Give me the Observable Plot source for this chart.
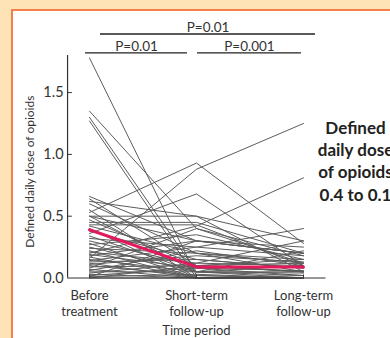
<!DOCTYPE html>
<html>
<head>
<meta charset="utf-8">
<script src="https://cdn.jsdelivr.net/npm/d3@7"></script>
<script src="https://cdn.jsdelivr.net/npm/@observablehq/plot@0.6"></script>
<style>
  html, body { margin: 0; padding: 0; width: 390px; height: 338px; overflow: hidden; background: #fde3b6; }
  #panel { position: absolute; left: 11px; top: 9px; width: 400px; height: 340px; background: #fff;
           border-left: 2px solid #f27f4c; border-top: 2px solid #f27f4c; }
  #chart { position: absolute; left: 0; top: 0; }
</style>
</head>
<body>
<div id="panel"></div>
<div id="chart"></div>
<script>
const periods = ["Before\ntreatment", "Short-term\nfollow-up", "Long-term\nfollow-up"];
const yTicks = [0, 0.5, 1.0, 1.5];

const before = [1.78, 1.35, 1.30, 1.27, 0.66, 0.64, 0.62, 0.60, 0.55, 0.53, 0.50, 0.50, 0.50, 0.47, 0.45, 0.43, 0.42, 0.40, 0.38, 0.36, 0.34, 0.32, 0.30, 0.28, 0.27, 0.25, 0.24, 0.22, 0.21, 0.20, 0.19, 0.18, 0.17, 0.16, 0.15, 0.14, 0.13, 0.12, 0.11, 0.10, 0.09, 0.08, 0.07, 0.06, 0.05, 0.04, 0.03, 0.02, 0.01, 0.01, 0.0, 0.0];
const shortTerm = [0.02, 0.40, 0.05, 0.00, 0.30, 0.10, 0.50, 0.20, 0.0, 0.93, 0.50, 0.30, 0.05, 0.10, 0.45, 0.43, 0.20, 0.0, 0.15, 0.68, 0.05, 0.25, 0.10, 0.0, 0.35, 0.05, 0.20, 0.0, 0.12, 0.42, 0.08, 0.30, 0.0, 0.88, 0.05, 0.25, 0.15, 0.0, 0.18, 0.02, 0.10, 0.40, 0.0, 0.22, 0.05, 0.12, 0.0, 0.08, 0.30, 0.03, 0.10, 0.0];
const longTerm = [0.0, 0.12, 0.02, 0.0, 0.20, 0.05, 0.05, 0.15, 0.0, 0.28, 0.30, 0.25, 0.10, 0.05, 0.20, 0.10, 0.12, 0.02, 0.08, 0.10, 0.0, 0.18, 0.05, 0.0, 0.15, 0.22, 0.05, 0.0, 0.10, 0.81, 0.02, 0.20, 0.0, 1.25, 0.05, 0.40, 0.08, 0.0, 0.13, 0.0, 0.15, 0.18, 0.0, 0.10, 0.04, 0.30, 0.0, 0.06, 0.20, 0.0, 0.12, 0.0];
const summary = [0.39, 0.09, 0.09];

const brackets = [
  {x1: 0.103, x2: 2.112, y: 1.974, label: "P=0.01"},
  {x1: -0.037, x2: 0.916, y: 1.822, label: "P=0.01"},
  {x1: 1.009, x2: 1.981, y: 1.822, label: "P=0.001"}
];
const sideNote = "Defined\ndaily dose\nof opioids\n0.4 to 0.1";
const yLabel = "Defined daily dose of opioids";
const xLabel = "Time period";

const rows = [];
before.forEach((v, i) => {
  rows.push({id: i, t: 0, v: before[i]});
  rows.push({id: i, t: 1, v: shortTerm[i]});
  rows.push({id: i, t: 2, v: longTerm[i]});
});
const sumRows = summary.map((v, t) => ({t, v}));

const axisX0 = -0.205;
const dark = "#333";

const chart = Plot.plot({
  width: 390,
  height: 338,
  margin: 0,
  style: {fontFamily: "Lato, sans-serif", background: "transparent", overflow: "visible", color: dark},
  x: {domain: [0, 2], range: [89, 303], axis: null},
  y: {domain: [0, 1.8], range: [277.5, 55], axis: null},
  marks: [
    Plot.line(rows, {x: "t", y: "v", z: "id", stroke: "#5c5c5c", strokeWidth: 1}),
    Plot.line(sumRows, {x: "t", y: "v", stroke: "#e2195b", strokeWidth: 3}),
    Plot.ruleX([axisX0], {y1: 0, y2: 1.8, stroke: dark, strokeWidth: 1.2}),
    Plot.ruleY([0], {x1: axisX0, x2: 2.21, stroke: dark, strokeWidth: 1.2}),
    Plot.ruleY(yTicks.slice(1), {x1: axisX0, x2: axisX0 + 0.045, y: d => d, stroke: dark}),
    Plot.ruleX([0, 1, 2], {y1: 0, y2: 0.025, stroke: dark}),
    Plot.text(yTicks, {x: axisX0, y: d => d, text: d => d3.format(".1f")(d), dx: -4, textAnchor: "end", fontSize: 14.5, fill: dark}),
    Plot.text(periods, {x: (d, i) => i, y: 0, text: d => d, dy: 10, lineAnchor: "top", lineHeight: 1.25, fontSize: 13, fill: dark}),
    Plot.text([xLabel], {x: 1, y: 0, text: d => d, dy: 48, lineAnchor: "top", fontSize: 13, fill: dark}),
    Plot.text([yLabel], {x: -0.55, y: 0.86, text: d => d, rotate: -90, fontSize: 12, fill: dark}),
    Plot.ruleY(brackets, {x1: "x1", x2: "x2", y: "y", stroke: "#222", strokeWidth: 1.3}),
    Plot.text(brackets, {x: d => (d.x1 + d.x2) / 2, y: "y", text: "label", dy: -2, lineAnchor: "bottom", fontSize: 13.5, fill: dark}),
    Plot.text([sideNote], {x: 2.486, y: 1.29, text: d => d, lineAnchor: "top", lineHeight: 1.3, fontSize: 17, fontWeight: "bold", fill: "#222"})
  ]
});
document.getElementById("chart").appendChild(chart);
</script>
</body>
</html>
